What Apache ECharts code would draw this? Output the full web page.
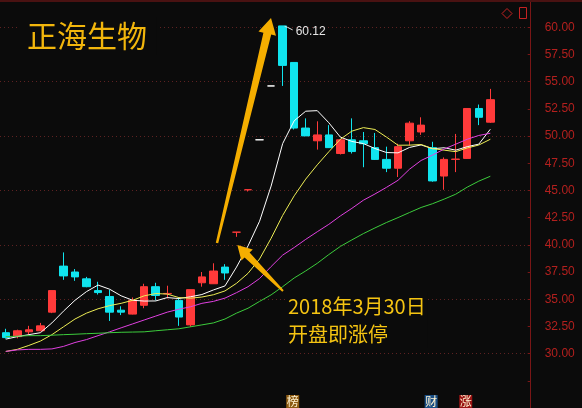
<!DOCTYPE html>
<html><head><meta charset="utf-8">
<script src="https://cdn.jsdelivr.net/npm/echarts@6/dist/echarts.min.js"></script>
<style>html,body{margin:0;padding:0;background:#0b0b0b;overflow:hidden}#c{width:582px;height:408px}</style>
</head><body><div id="c"></div>
<script>
// ---- data ----
const dates = ['2018-03-02','2018-03-05','2018-03-06','2018-03-07','2018-03-08','2018-03-09','2018-03-12','2018-03-13','2018-03-14','2018-03-15',
'2018-03-16','2018-03-19','2018-03-20','2018-03-21','2018-03-22','2018-03-23','2018-03-26','2018-03-27','2018-03-28','2018-03-29',
'2018-03-30','2018-04-02','2018-04-03','2018-04-04','2018-04-09','2018-04-10','2018-04-11','2018-04-12','2018-04-13','2018-04-16',
'2018-04-17','2018-04-18','2018-04-19','2018-04-20','2018-04-23','2018-04-24','2018-04-25','2018-04-26','2018-04-27','2018-05-02',
'2018-05-03','2018-05-04','2018-05-07','2018-05-08','2018-05-09','2018-05-10'];
const opens  = [31.92,31.56,32.00,32.10,33.81,38.04,37.50,36.87,35.79,35.25,33.99,33.63,34.44,36.15,35.50,34.89,32.64,36.51,36.42,37.95,
41.16,45.06,49.65,54.60,60.12,56.76,50.73,49.56,50.10,48.39,49.65,49.56,48.93,47.85,47.04,49.56,50.37,48.93,46.32,47.85,47.94,52.53,51.27];
const closes = [31.47,32.10,32.19,32.55,35.79,37.14,37.05,36.15,35.61,33.81,33.81,34.89,36.15,35.34,35.53,33.36,35.88,37.05,37.59,37.41,
41.16,45.06,49.65,54.60,56.49,50.73,50.01,50.10,48.93,49.65,48.57,49.29,47.85,47.04,49.02,51.18,51.00,45.87,47.85,47.88,52.53,51.72,53.34];
const lows   = [31.38,31.40,31.74,32.05,33.72,36.78,36.69,36.10,35.43,33.00,33.54,33.60,34.17,34.89,35.07,32.55,32.46,36.15,36.40,36.78,
40.73,44.90,49.65,54.60,54.60,50.60,50.00,48.75,48.90,48.30,48.39,47.13,47.80,46.68,46.23,49.11,50.10,45.80,45.06,46.68,47.90,51.00,51.20];
const highs  = [32.28,32.20,32.55,32.82,35.80,39.30,37.77,37.05,36.60,35.88,34.35,35.16,36.42,36.51,36.24,35.16,35.90,37.50,38.30,38.22,
41.16,45.06,49.65,54.60,60.12,56.76,51.62,51.35,51.00,49.70,51.62,50.37,50.28,49.02,49.29,51.36,51.72,49.47,48.03,50.19,52.55,52.89,54.33];
const ma5  = [31.33,31.56,31.74,31.92,32.82,33.90,34.90,35.70,36.30,35.92,35.31,34.90,34.83,34.84,35.15,35.06,35.22,35.43,35.85,36.22,
37.95,39.90,42.17,45.40,49.30,51.40,52.28,52.33,51.22,49.90,49.50,49.30,48.85,48.48,48.45,48.95,49.18,48.83,48.92,48.70,49.02,49.25,50.62];
const ma10 = [30.20,30.39,30.75,31.15,31.74,32.46,33.18,33.72,34.12,34.41,34.62,34.90,35.31,35.52,35.47,35.15,35.09,35.20,35.41,35.76,
36.46,37.38,38.70,40.60,42.70,44.50,46.04,47.35,48.55,49.70,50.45,50.77,50.60,49.90,49.15,49.16,49.22,48.84,48.70,48.56,48.90,49.17,49.70];
const ma20 = [30.20,30.34,30.39,30.39,30.43,30.66,31.02,31.29,31.65,32.00,32.37,32.73,33.09,33.45,33.81,34.08,34.30,34.62,34.80,35.10,
35.60,36.15,36.90,38.00,39.05,39.75,40.50,41.20,41.88,42.65,43.35,44.10,44.67,45.28,45.93,46.95,47.75,48.25,48.80,49.25,49.70,50.05,50.25];
const ma30 = [31.56,31.60,31.65,31.65,31.69,31.74,31.78,31.83,31.87,31.92,31.96,31.98,32.00,32.10,32.19,32.28,32.46,32.64,32.82,33.18,
33.72,34.17,34.80,35.40,36.15,36.95,37.60,38.30,39.10,39.85,40.45,41.03,41.55,42.05,42.50,42.97,43.43,43.78,44.20,44.65,45.30,45.85,46.30];
const whiteDays = ['2018-04-03','2018-04-04'];      // one-price bars drawn white
const peakDay = '2018-04-09';
const peakLabel = '60.12';
const markerDays  = ['2018-04-10','2018-04-26','2018-05-03'];
const markerTexts = ['榜','财','涨'];
const yMin = 25, yMax = 62.5, yStep = 2.5, labelLow = 30, labelHigh = 60;

// ---- chart ----
const UP = '#ff3a3a', DOWN = '#10e4ee';
const chart = echarts.init(document.getElementById('c'), null, {renderer: 'canvas'});
const candleData = opens.map((o, i) => {
  const v = [o, closes[i], lows[i], highs[i]];
  if (whiteDays.includes(dates[i])) {
    return {value: v, itemStyle: {color: '#ffffff', color0: '#ffffff', borderColor: '#ffffff', borderColor0: '#ffffff', borderColorDoji: '#ffffff'}};
  }
  return v;
});
const maSeries = (name, d, color) => ({
  name, type: 'line', data: d, symbol: 'none', smooth: false, z: 3,
  lineStyle: {color, width: 1}, silent: true
});
chart.setOption({
  backgroundColor: '#0b0b0b',
  animation: false,
  title: {
    text: '正海生物', left: 17, top: 17, padding: [4, 10],
    backgroundColor: '#0b0b0b',
    textStyle: {color: '#f2b60c', fontSize: 30, fontWeight: 'normal', fontFamily: 'Noto Sans CJK SC'}
  },
  grid: {left: 0, right: 51.3, top: -3.8, bottom: -4.9, containLabel: false},
  xAxis: {type: 'category', data: dates, boundaryGap: true, show: false},
  yAxis: {
    type: 'value', position: 'right', min: yMin, max: yMax, interval: yStep, scale: true,
    axisLine: {show: true, lineStyle: {color: '#7a1616', width: 1}},
    axisTick: {show: true, inside: true, length: 3, lineStyle: {color: '#7a1616'}},
    axisLabel: {color: '#b3201e', fontSize: 12, fontFamily: 'Liberation Sans', margin: 14,
      showMinLabel: false, showMaxLabel: false,
      formatter: v => (v < labelLow || v > labelHigh) ? '' : v.toFixed(2)},
    splitLine: {show: true, lineStyle: {color: ['#5e2222', 'rgba(0,0,0,0)'], type: [1, 3], width: 1}}
  },
  series: [
    {
      name: 'K', type: 'candlestick', data: candleData, barWidth: 8, z: 2,
      itemStyle: {color: UP, color0: DOWN, borderColor: UP, borderColor0: DOWN, borderColorDoji: UP, borderWidth: 1}
    },
    maSeries('MA5', ma5, '#ffffff'),
    maSeries('MA10', ma10, '#eeee55'),
    maSeries('MA20', ma20, '#e040e0'),
    maSeries('MA30', ma30, '#3ccc3c')
  ]
});

// ---- annotations (anchored through the axes) ----
const g = [];
const pk = chart.convertToPixel({xAxisIndex: 0, yAxisIndex: 0}, [peakDay, Number(peakLabel)]);
g.push({type: 'polyline', z: 20, shape: {points: [[pk[0] + 2, pk[1] + 0.5], [pk[0] + 5, pk[1] + 1.5], [pk[0] + 10, pk[1] + 4]]},
  style: {stroke: '#dddddd', lineWidth: 1, fill: null}});
g.push({type: 'text', z: 20, x: pk[0] + 13, y: pk[1] + 5.5,
  style: {text: peakLabel, fill: '#e6e6e6', font: '12px "Liberation Sans"', textVerticalAlign: 'middle'}});

markerDays.forEach((d, i) => {
  const cx = chart.convertToPixel({xAxisIndex: 0}, d) - 1.5;
  const bg = ['#8c5a12', '#1a4e84', '#9a1414'][i];
  g.push({type: 'rect', z: 20, shape: {x: cx - 6.5, y: 395, width: 13, height: 13}, style: {fill: bg}});
  g.push({type: 'text', z: 21, x: cx, y: 401.5,
    style: {text: markerTexts[i], fill: '#fff2d0', font: '12px "Noto Sans CJK SC"', textAlign: 'center', textVerticalAlign: 'middle'}});
});

// top border and top-right icons
g.push({type: 'rect', z: 20, shape: {x: 0, y: 0, width: 582, height: 2}, style: {fill: '#4a1212'}});
g.push({type: 'polygon', z: 20, shape: {points: [[507, 8.5], [512, 13.5], [507, 18.5], [502, 13.5]]}, style: {fill: null, stroke: '#c42222', lineWidth: 1}});
g.push({type: 'rect', z: 20, shape: {x: 519.5, y: 7.5, width: 7, height: 11}, style: {fill: null, stroke: '#c42222', lineWidth: 1}});

// arrows
const ARROW = '#f5ae00';
g.push({type: 'polygon', z: 30, shape: {points: [[271, 18], [276.0, 35.7], [271.2, 34.5], [218.2, 243.3], [215.8, 242.7], [263.4, 32.7], [258.5, 31.5]]},
  style: {fill: ARROW}});
g.push({type: 'polygon', z: 30, shape: {points: [[237.3, 245], [252.8, 249.5], [249.6, 252.6], [283.7, 290.3], [282.3, 291.7], [244.6, 257.4], [241.4, 260.6]]},
  style: {fill: ARROW}});

// caption
g.push({type: 'text', z: 25, x: 286, y: 292,
  style: {text: '2018年3月30日\n开盘即涨停', fill: '#f5c412', font: '20px "Noto Sans CJK SC"', lineHeight: 28,
    backgroundColor: '#0b0b0b', padding: [0, 2]}});
chart.setOption({graphic: g});
</script></body></html>
